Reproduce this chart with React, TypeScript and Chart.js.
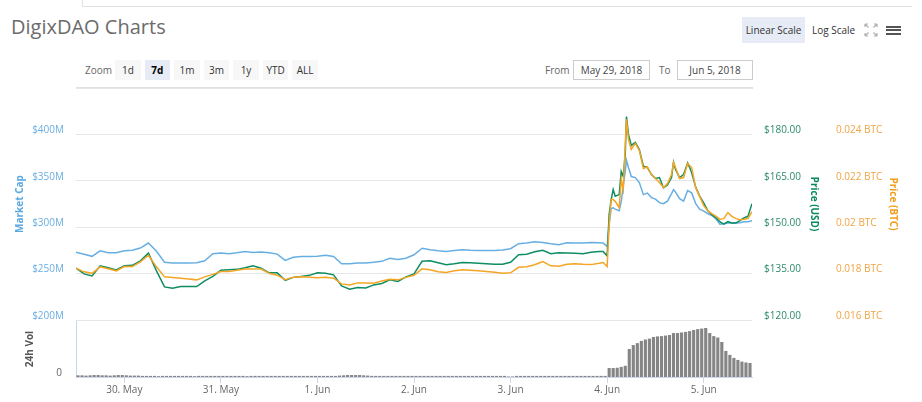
import React, { useEffect, useRef } from "react";
import { Chart, registerables } from "chart.js";

Chart.register(...registerables);

const FONT = '"Open Sans", sans-serif';

// time axis in hours since 29 May 2018 00:00
const TIME_H = [
  12, 14, 16, 18, 20, 22, 24, 26, 28, 30,
  32, 34, 36, 38, 40, 42, 44, 46, 48, 50,
  52, 54, 56, 58, 60, 62, 64, 66, 68, 70,
  72, 74, 76, 78, 80, 82, 84, 86, 88, 90,
  92, 94, 96, 98, 100, 102, 104, 106, 108, 110,
  112, 114, 116, 118, 120, 122, 124, 126, 128, 130,
  132, 134, 136, 138, 140, 142,
  143, 144, 144.5, 145, 145.5, 146, 147, 147.5, 148, 148.5,
  148.8, 149.3, 150, 151, 152, 153, 154, 155, 156, 157,
  158, 159, 160, 160.5, 161, 162, 163, 164, 165, 166,
  167, 168, 169, 170, 171, 172, 173, 174, 175, 176,
  177, 178, 179, 180,
];

// Market cap in $M
const MARKET_CAP = [
  273.0, 270.8, 268.6, 274.6, 272.4, 272.4, 274.6, 275.1, 277.5, 282.9,
  274.1, 262.2, 261.3, 261.3, 261.3, 261.6, 263.8, 271.4, 272.1, 271.4,
  272.4, 273.8, 272.8, 273.2, 272.4, 271.0, 264.3, 267.6, 268.3, 268.4,
  268.6, 269.7, 268.4, 260.5, 260.5, 261.3, 261.3, 262.2, 263.2, 266.5,
  265.1, 266.5, 270.3, 277.3, 275.7, 274.6, 273.8, 274.8, 275.7, 275.1,
  274.9, 274.9, 274.9, 275.4, 276.8, 282.2, 282.9, 284.3, 283.6, 282.2,
  281.1, 283.2, 282.9, 282.9, 283.6, 283.2,
  282.9, 279.2, 302.7, 320.0, 320.9, 319.5, 317.8, 327.6, 344.1, 360.0,
  371.9, 364.3, 354.6, 353.5, 348.1, 335.1, 336.8, 331.9, 330.3, 326.5,
  325.4, 328.1, 336.2, 340.5, 337.8, 330.8, 328.1, 339.5, 337.0, 325.4,
  319.5, 317.3, 314.8, 312.6, 309.2, 303.2, 303.8, 304.5, 304.5, 304.5,
  304.9, 305.9, 305.9, 307.0,
];

// Price in USD
const PRICE_USD = [
  136.76, 134.91, 134.26, 137.51, 136.86, 136.21, 137.51, 137.67, 139.13, 141.63,
  135.89, 130.7, 130.28, 130.8, 130.8, 130.8, 132.64, 134.1, 136.05, 136.21,
  136.37, 136.86, 137.51, 136.76, 135.24, 135.24, 132.81, 133.78, 134.1, 134.43,
  135.24, 135.14, 134.59, 131.02, 129.95, 130.54, 130.37, 131.35, 131.83, 132.97,
  132.48, 133.94, 134.91, 138.97, 139.13, 138.48, 137.83, 138.16, 138.58, 138.48,
  138.32, 138.16, 138.0, 138.0, 138.64, 141.08, 141.24, 142.05, 142.54, 141.4,
  141.73, 141.63, 141.56, 141.4, 141.89, 142.15,
  142.15, 140.75, 154.05, 158.92, 162.16, 159.99, 160.54, 168.0, 166.38, 173.51,
  185.74, 180.0, 176.43, 177.41, 175.13, 169.72, 169.3, 167.03, 165.73, 166.05,
  162.71, 163.62, 166.05, 171.02, 168.65, 166.05, 167.03, 170.82, 167.67, 162.97,
  160.05, 157.85, 155.35, 154.05, 153.08, 151.78, 150.97, 151.78, 151.36, 151.36,
  152.1, 152.98, 153.57, 157.62,
];

// Price in BTC
const PRICE_BTC = [
  0.018236, 0.018076, 0.018011, 0.018292, 0.018206, 0.018119, 0.018305, 0.018305, 0.018509, 0.01879,
  0.018292, 0.01786, 0.01783, 0.017804, 0.017765, 0.01773, 0.01786, 0.017968, 0.018089, 0.018089,
  0.018141, 0.018193, 0.018193, 0.018193, 0.018011, 0.017933, 0.017739, 0.017847, 0.01786, 0.017838,
  0.017817, 0.017847, 0.017804, 0.017557, 0.017514, 0.0176, 0.0176, 0.017587, 0.017678, 0.017752,
  0.01773, 0.017838, 0.017925, 0.018206, 0.018163, 0.018076, 0.018046, 0.018119, 0.018163, 0.018141,
  0.018119, 0.018089, 0.018054, 0.01802, 0.018033, 0.018271, 0.018292, 0.018379, 0.018522, 0.018336,
  0.018314, 0.0184, 0.018422, 0.0184, 0.018387, 0.018444,
  0.018478, 0.018305, 0.020108, 0.021189, 0.021189, 0.021116, 0.020843, 0.022054, 0.021622, 0.023568,
  0.024649, 0.023784, 0.023351, 0.023611, 0.023308, 0.02253, 0.022595, 0.02227, 0.022097, 0.021924,
  0.021708, 0.021881, 0.02227, 0.022789, 0.022573, 0.022097, 0.022141, 0.022746, 0.022573, 0.021708,
  0.021319, 0.02093, 0.020714, 0.020584, 0.020476, 0.020346, 0.020368, 0.020627, 0.020467, 0.020368,
  0.020324, 0.020346, 0.020376, 0.02067,
];

// hourly volume bars (hours since 29 May 00:00)
const VOL_H = [
  12.5, 13.5, 14.5, 15.5, 16.5, 17.5, 18.5, 19.5, 20.5, 21.5, 22.5, 23.5,
  24.5, 25.5, 26.5, 27.5, 28.5, 29.5, 30.5, 31.5, 32.5, 33.5, 34.5, 35.5,
  36.5, 37.5, 38.5, 39.5, 40.5, 41.5, 42.5, 43.5, 44.5, 45.5, 46.5, 47.5,
  48.5, 49.5, 50.5, 51.5, 52.5, 53.5, 54.5, 55.5, 56.5, 57.5, 58.5, 59.5,
  60.5, 61.5, 62.5, 63.5, 64.5, 65.5, 66.5, 67.5, 68.5, 69.5, 70.5, 71.5,
  72.5, 73.5, 74.5, 75.5, 76.5, 77.5, 78.5, 79.5, 80.5, 81.5, 82.5, 83.5,
  84.5, 85.5, 86.5, 87.5, 88.5, 89.5, 90.5, 91.5, 92.5, 93.5, 94.5, 95.5,
  96.5, 97.5, 98.5, 99.5, 100.5, 101.5, 102.5, 103.5, 104.5, 105.5, 106.5, 107.5,
  108.5, 109.5, 110.5, 111.5, 112.5, 113.5, 114.5, 115.5, 116.5, 117.5, 118.5, 119.5,
  120.5, 121.5, 122.5, 123.5, 124.5, 125.5, 126.5, 127.5, 128.5, 129.5, 130.5, 131.5,
  132.5, 133.5, 134.5, 135.5, 136.5, 137.5, 138.5, 139.5, 140.5, 141.5, 142.5, 143.5,
  144.5, 145.5, 146.5, 147.5, 148.5, 149.5, 150.5, 151.5, 152.5, 153.5, 154.5, 155.5,
  156.5, 157.5, 158.5, 159.5, 160.5, 161.5, 162.5, 163.5, 164.5, 165.5, 166.5, 167.5,
  168.5, 169.5, 170.5, 171.5, 172.5, 173.5, 174.5, 175.5, 176.5, 177.5, 178.5, 179.5,
];

// 24h volume in $M
const VOL_24H = [
  6, 6, 5, 6, 7, 7, 6, 6, 5, 6, 7, 7,
  6, 5, 5, 5, 4, 4, 4, 4, 3, 4, 4, 4,
  4, 4, 4, 4, 4, 3, 4, 4, 4, 4, 4, 4,
  4, 4, 4, 4, 4, 4, 3, 4, 4, 4, 4, 4,
  4, 4, 4, 4, 4, 4, 4, 4, 4, 4, 4, 4,
  4, 4, 4, 4, 4, 5, 6, 7, 7, 7, 7, 6,
  5, 4, 4, 4, 4, 4, 4, 4, 4, 4, 4, 4,
  4, 4, 4, 4, 4, 4, 4, 4, 4, 4, 4, 4,
  4, 4, 4, 4, 4, 4, 4, 4, 4, 4, 4, 2,
  2, 4, 4, 4, 4, 4, 4, 4, 4, 4, 4, 4,
  4, 4, 4, 4, 4, 4, 4, 4, 4, 4, 4, 4,
  32, 32, 33, 36, 40, 100, 114, 121, 129, 134, 137, 143,
  145, 146, 148, 150, 157, 157, 159, 161, 164, 168, 171, 173,
  175, 157, 146, 141, 125, 93, 79, 68, 61, 55, 52, 50,
];

const DAY_TICKS = [24, 48, 72, 96, 120, 144, 168];
const DAY_LABELS = ["30. May", "31. May", "1. Jun", "2. Jun", "3. Jun", "4. Jun", "5. Jun"];
const MC_TICKS = [200, 250, 300, 350, 400, 450];
const USD_TICKS = [120, 135, 150, 165, 180, 195];
const BTC_TICKS = [0.016, 0.018, 0.02, 0.022, 0.024, 0.026];
const ZOOM_BUTTONS = ["1d", "7d", "1m", "3m", "1y", "YTD", "ALL"];

const C_BLUE = "#67afe3";
const C_GREEN = "#0f8d61";
const C_ORANGE = "#f5a524";

const tickFont = { family: FONT, size: 10 };
const titleFont = { family: FONT, size: 10, weight: "bold" as const };

function xy(vals: number[]) {
  return TIME_H.map((t, i) => ({ x: t, y: vals[i] }));
}

function makeMain(canvas: HTMLCanvasElement) {
  const line = (label: string, vals: number[], color: string, axis: string) => ({
    label,
    data: xy(vals),
    yAxisID: axis,
    borderColor: color,
    backgroundColor: color,
    borderWidth: 1.5,
    pointRadius: 0,
    tension: 0,
    fill: false,
  });
  return new Chart(canvas, {
    type: "line",
    data: {
      datasets: [
        line("Price (BTC)", PRICE_BTC, C_ORANGE, "yBTC"),
        line("Price (USD)", PRICE_USD, C_GREEN, "yUSD"),
        line("Market Cap", MARKET_CAP, C_BLUE, "yMC"),
      ],
    },
    options: {
      animation: false,
      responsive: false,
      events: [],
      layout: { padding: { top: 88, bottom: 82, left: 0, right: 0 } },
      plugins: { legend: { display: false }, tooltip: { enabled: false } },
      scales: {
        x: { type: "linear", min: 12, max: 180, display: false },
        yMC: {
          position: "left",
          min: 200,
          max: 450,
          afterBuildTicks: (s: any) => {
            s.ticks = MC_TICKS.map((v) => ({ value: v }));
          },
          afterFit: (s: any) => {
            s.width = 76;
          },
          grid: { color: "#e6e6e6", drawTicks: false },
          border: { display: false },
          ticks: {
            padding: 12,
            labelOffset: -4,
            color: "#6aaee3",
            font: tickFont,
            callback: (v: any) => (v >= 449 ? "" : "$" + v + "M"),
          },
          title: {
            display: true,
            text: "Market Cap",
            color: "#5aa8e0",
            font: titleFont,
            padding: { top: 14, bottom: 0 },
          },
        },
        yUSD: {
          position: "right",
          min: 120,
          max: 195,
          afterBuildTicks: (s: any) => {
            s.ticks = USD_TICKS.map((v) => ({ value: v }));
          },
          afterFit: (s: any) => {
            s.width = 74;
          },
          grid: { display: false, drawTicks: false },
          border: { display: false },
          ticks: {
            padding: 12,
            labelOffset: -4,
            color: "#2c8a6c",
            font: tickFont,
            callback: (v: any) => (v >= 194 ? "" : "$" + Number(v).toFixed(2)),
          },
          title: {
            display: true,
            text: "Price (USD)",
            color: "#0b8a5c",
            font: titleFont,
            padding: { top: 6, bottom: 0 },
          },
        },
        yBTC: {
          position: "right",
          min: 0.016,
          max: 0.026,
          afterBuildTicks: (s: any) => {
            s.ticks = BTC_TICKS.map((v) => ({ value: v }));
          },
          afterFit: (s: any) => {
            s.width = 96;
          },
          grid: { display: false, drawTicks: false },
          border: { display: false },
          ticks: {
            padding: 10,
            labelOffset: -4,
            color: "#f0a443",
            font: tickFont,
            callback: (v: any) => (v >= 0.0259 ? "" : parseFloat(Number(v).toFixed(3)) + " BTC"),
          },
          title: {
            display: true,
            text: "Price (BTC)",
            color: "#f29d1a",
            font: titleFont,
            padding: { top: 23, bottom: 0 },
          },
        },
      },
    } as any,
  });
}

function makeVol(canvas: HTMLCanvasElement) {
  return new Chart(canvas, {
    type: "bar",
    data: {
      datasets: [
        {
          label: "24h Vol",
          data: VOL_H.map((h, i) => ({ x: h, y: VOL_24H[i] })),
          backgroundColor: "#858585",
          borderWidth: 0,
          barPercentage: 0.78,
          categoryPercentage: 1,
          xAxisID: "x",
          yAxisID: "yV",
        } as any,
      ],
    },
    options: {
      animation: false,
      responsive: false,
      events: [],
      layout: { padding: { top: 321, bottom: 0, left: 0, right: 170 } },
      plugins: { legend: { display: false }, tooltip: { enabled: false } },
      scales: {
        x: {
          type: "linear",
          min: 12,
          max: 180,
          offset: false,
          afterBuildTicks: (s: any) => {
            s.ticks = DAY_TICKS.map((v) => ({ value: v }));
          },
          afterFit: (s: any) => {
            s.height = 25;
          },
          grid: {
            offset: false,
            drawOnChartArea: false,
            drawTicks: true,
            tickLength: 6,
            color: "#ccd6eb",
          },
          border: { display: true, color: "#ccd6eb" },
          ticks: {
            padding: 1,
            color: "#666666",
            font: tickFont,
            maxRotation: 0,
            autoSkip: false,
            callback: (v: any) => {
              const k = DAY_TICKS.indexOf(Number(v));
              return k >= 0 ? DAY_LABELS[k] : "";
            },
          },
        },
        yV: {
          position: "left",
          min: 0,
          max: 200,
          afterBuildTicks: (s: any) => {
            s.ticks = [{ value: 0 }];
          },
          afterFit: (s: any) => {
            s.width = 76;
          },
          grid: { display: false, drawTicks: false },
          border: { display: true, color: "#ccd6eb" },
          ticks: {
            padding: 14,
            labelOffset: -4,
            color: "#666666",
            font: tickFont,
            callback: (v: any) => String(v),
          },
          title: {
            display: true,
            text: "24h Vol",
            color: "#555555",
            font: titleFont,
            padding: { top: 24, bottom: 0 },
          },
        },
      },
    } as any,
  });
}

const abs = (s: React.CSSProperties): React.CSSProperties => ({ position: "absolute", ...s });

export default function App() {
  const mainRef = useRef<HTMLCanvasElement>(null);
  const volRef = useRef<HTMLCanvasElement>(null);

  useEffect(() => {
    const charts: Chart[] = [];
    if (volRef.current) charts.push(makeVol(volRef.current));
    if (mainRef.current) charts.push(makeMain(mainRef.current));
    return () => charts.forEach((c) => c.destroy());
  }, []);

  const small: React.CSSProperties = { fontSize: 10, lineHeight: "20px", color: "#555" };

  return (
    <div
      style={{
        position: "fixed",
        left: 0,
        top: 0,
        width: 922,
        height: 402,
        background: "#fff",
        overflow: "hidden",
        fontFamily: FONT,
      }}
    >
      <div style={abs({ left: 82, top: 6, width: 830, height: 1, background: "#e2e2e2" })} />
      <div style={abs({ left: 82, top: 0, width: 1, height: 6, background: "#e2e2e2" })} />
      <div style={abs({ left: 76, top: 87, width: 677, height: 2, background: "#e0e0e0" })} />

      <div style={abs({ left: 11, top: 15, fontSize: 20, lineHeight: "24px", color: "#6b6b6b", whiteSpace: "nowrap" })}>
        DigixDAO Charts
      </div>

      <div style={abs({ left: 85, top: 60, ...small, color: "#666" })}>Zoom</div>
      {ZOOM_BUTTONS.map((b, i) => (
        <div
          key={b}
          style={abs({
            left: 115 + i * 29.55,
            top: 60,
            width: 25.7,
            height: 20,
            background: b === "7d" ? "#e6ebf5" : "#f7f7f7",
            textAlign: "center",
            fontSize: 10,
            lineHeight: "20px",
            color: b === "7d" ? "#000" : "#333",
            fontWeight: b === "7d" ? 700 : 400,
          })}
        >
          {b}
        </div>
      ))}

      <div style={abs({ left: 545, top: 60, ...small, color: "#666" })}>From</div>
      <div
        style={abs({
          left: 573,
          top: 60,
          width: 77,
          height: 20,
          boxSizing: "border-box",
          border: "1px solid #cccccc",
          textAlign: "center",
          fontSize: 10,
          lineHeight: "18px",
          color: "#444",
        })}
      >
        May 29, 2018
      </div>
      <div style={abs({ left: 659, top: 60, ...small, color: "#666" })}>To</div>
      <div
        style={abs({
          left: 677,
          top: 60,
          width: 76,
          height: 20,
          boxSizing: "border-box",
          border: "1px solid #cccccc",
          textAlign: "center",
          fontSize: 10,
          lineHeight: "18px",
          color: "#444",
        })}
      >
        Jun 5, 2018
      </div>

      <div
        style={abs({
          left: 742,
          top: 17,
          width: 63,
          height: 26,
          background: "#e6ebf5",
          textAlign: "center",
          fontSize: 10,
          lineHeight: "26px",
          color: "#333",
        })}
      >
        Linear Scale
      </div>
      <div style={abs({ left: 812, top: 17, fontSize: 10, lineHeight: "26px", color: "#333" })}>Log Scale</div>
      <svg style={abs({ left: 864, top: 23 })} width={14} height={14}>
        <g stroke="#b0b0b0" strokeWidth={1.2} fill="none">
          <path d="M1 1 L4.5 4.5 M1 1 L4 1 M1 1 L1 4" />
          <path d="M13 1 L9.5 4.5 M13 1 L10 1 M13 1 L13 4" />
          <path d="M1 13 L4.5 9.5 M1 13 L4 13 M1 13 L1 10" />
          <path d="M13 13 L9.5 9.5 M13 13 L10 13 M13 13 L13 10" />
        </g>
      </svg>
      <div style={abs({ left: 886, top: 25.5, width: 15, height: 2, background: "#555" })} />
      <div style={abs({ left: 886, top: 29, width: 15, height: 2, background: "#555" })} />
      <div style={abs({ left: 886, top: 32.5, width: 15, height: 2, background: "#555" })} />

      <canvas
        ref={volRef}
        width={922}
        height={402}
        style={abs({ left: 0, top: 0, width: 922, height: 402 })}
      />
      <canvas
        ref={mainRef}
        width={922}
        height={402}
        style={abs({ left: 0, top: 0, width: 922, height: 402 })}
      />
    </div>
  );
}
